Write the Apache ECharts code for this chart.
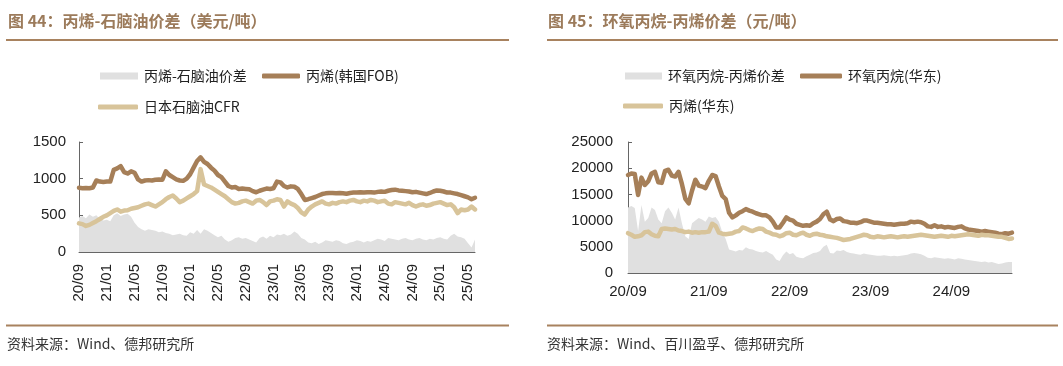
<!DOCTYPE html>
<html><head><meta charset="utf-8">
<script src="https://cdn.jsdelivr.net/npm/echarts@6/dist/echarts.min.js"></script>
<style>html,body{margin:0;padding:0;background:#fff}#c{width:1063px;height:366px}</style>
</head><body><div id="c"></div>
<script>
// Half-month categories from 2020-09 to 2025-06
const months = ['20/09','20/10','20/11','20/12','21/01','21/02','21/03','21/04','21/05','21/06','21/07','21/08','21/09','21/10','21/11','21/12',
'22/01','22/02','22/03','22/04','22/05','22/06','22/07','22/08','22/09','22/10','22/11','22/12','23/01','23/02','23/03','23/04','23/05','23/06','23/07','23/08',
'23/09','23/10','23/11','23/12','24/01','24/02','24/03','24/04','24/05','24/06','24/07','24/08','24/09','24/10','24/11','24/12','25/01','25/02','25/03','25/04','25/05','25/06'];
const categories = [];
months.forEach((m, i) => { categories.push(m + '-01'); if (i < months.length - 1) categories.push(m + '-16'); });

// Chart 44 (USD/t)
const spread44 = [470,490,460,510,480,500,450,430,440,420,500,530,490,510,520,480,400,340,310,290,310,300,290,270,280,260,250,230,240,250,230,220,270,250,300,250,310,290,260,230,
200,220,170,140,160,190,200,180,190,170,150,130,190,210,180,220,200,240,230,250,220,240,280,250,190,170,130,120,140,110,130,160,150,140,160,150,120,110,130,140,
160,150,130,150,140,160,180,170,150,190,180,170,160,180,190,170,160,180,190,170,160,180,170,190,200,180,170,220,250,210,200,180,120,60,170];
const propyleneKorea = [875,870,872,870,880,975,960,955,960,960,1120,1140,1170,1090,1070,1100,1080,990,960,975,980,975,985,990,985,1100,1050,1020,990,975,970,1000,1060,1150,1240,1290,1230,1200,1150,1110,
1050,1020,960,900,880,885,860,865,860,855,830,815,835,850,865,860,870,960,950,900,880,895,890,860,790,710,720,735,750,770,790,800,805,805,800,805,800,795,805,810,
810,815,810,815,815,810,820,825,820,835,845,850,840,835,830,825,815,820,810,800,790,805,825,840,835,825,810,810,800,790,775,760,745,720,740];
const naphthaJapan = [390,380,355,370,395,420,450,480,500,530,560,580,550,565,570,590,600,610,630,650,660,640,620,650,680,720,750,770,730,680,700,730,760,790,830,1130,920,900,880,850,
820,790,760,720,680,660,670,690,700,680,660,700,710,680,640,690,700,720,710,620,690,660,640,600,540,510,580,620,650,670,690,660,650,670,660,680,690,680,700,710,
690,680,700,690,710,700,680,690,700,660,650,680,670,660,650,670,640,620,640,650,630,640,660,670,680,660,640,650,610,530,580,570,580,620,580];

// Chart 45 (CNY/t)
const spread45 = [12500,12800,12400,8000,13000,9800,10500,12500,12000,10200,9500,11800,12500,11500,10200,12500,9500,7000,6500,9500,10000,10500,10200,9800,10800,10500,10700,9800,7800,6500,
4500,4300,4100,4400,4300,4900,4600,4500,4200,4000,3900,4200,3800,3500,2600,2300,3400,4100,3600,3800,3100,2900,2800,3200,3500,3800,3900,4200,5000,5400,
3800,3700,4300,4200,4400,4000,3800,3700,3600,3500,3700,3600,3500,3400,3300,3300,3400,3300,3200,3300,3200,3300,3400,3500,3700,3800,3700,3600,3300,2900,
2800,3000,2900,2800,2700,2800,2700,2600,2800,2700,2600,2500,2400,2300,2200,2100,2200,2000,2100,1900,1700,1800,2000,2100,2100];
const poEastChina = [18700,19000,18900,14900,18200,16800,17500,19000,19300,17300,17200,19500,19700,18600,18400,19300,17000,14200,13300,15700,17800,16700,16500,16200,17600,18700,18500,16500,14700,14100,
11500,10600,11000,11500,11800,12200,11900,11700,11400,11200,11000,11000,10600,9800,8700,8700,9600,10600,10200,10000,9400,9200,9000,9100,9000,9500,9800,10300,11200,11700,
10200,9900,10300,10400,9900,9800,9600,9600,9500,9700,10000,10000,9800,9600,9600,9500,9400,9300,9300,9200,9300,9400,9400,9500,9800,9700,9800,9700,9400,8900,
8800,9100,8800,8900,8700,8800,8700,8600,8800,8900,8500,8300,8200,8100,8000,7900,8000,7900,7800,7700,7500,7400,7600,7500,7700];
const propyleneEastChina = [7600,7300,6900,7000,7200,7800,7900,7400,7100,7000,8400,8500,8400,8300,8400,8100,8000,7800,7900,7700,7800,7700,7800,7800,7900,9400,9000,7700,7500,7400,
7500,7600,7900,8000,8700,8500,8200,8000,8300,8500,8400,7900,7700,7400,7300,7000,7200,7600,7700,7300,7200,7500,7700,7300,7100,7400,7500,7300,7200,7000,
6900,6800,6700,6500,6300,6400,6500,6700,6900,7100,7300,7200,6900,6800,7000,6900,6800,6900,7000,6900,6800,6900,7000,6900,7000,7100,7200,7300,7200,7100,
7000,6900,7000,7100,7000,6900,7100,7000,7100,7200,7300,7400,7300,7200,7100,7300,7200,7200,7100,7000,6900,6900,6700,6500,6600];

const yTicks44 = [0, 500, 1000, 1500];
const yTicks45 = [0, 5000, 10000, 15000, 20000, 25000];
const names44 = ['丙烯-石脑油价差', '丙烯(韩国FOB)', '日本石脑油CFR'];
const names45 = ['环氧丙烷-丙烯价差', '环氧丙烷(华东)', '丙烯(华东)'];
const titles = ['图 44：丙烯-石脑油价差（美元/吨）', '图 45：环氧丙烷-丙烯价差（元/吨）'];
const sources = ['资料来源：Wind、德邦研究所', '资料来源：Wind、百川盈孚、德邦研究所'];

const C_GRAY = '#e0e0e0', C_BROWN = '#a67f58', C_TAN = '#d8c49a', C_RULE = '#a8825f', C_TITLE = '#9c7b5b';
const FONT = '"Liberation Sans", Arial, "Noto Sans CJK SC", sans-serif';
const CJK = '"Noto Sans CJK SC", "Liberation Sans", sans-serif';

function xAxis(gridIndex, step, rotate, margin) {
  return {
    type: 'category', gridIndex, data: categories, boundaryGap: false,
    axisLine: { lineStyle: { color: '#666', width: 1 } },
    axisTick: { inside: true, length: 4, interval: (i) => i % step === 0, lineStyle: { color: '#666' } },
    axisLabel: { interval: (i) => i % step === 0, formatter: (v) => v.slice(0, 5), rotate, margin,
      color: '#222', fontSize: 15, fontFamily: FONT },
    splitLine: { show: false }
  };
}
function yAxis(gridIndex, ticks, margin) {
  return {
    type: 'value', gridIndex, min: ticks[0], max: ticks[ticks.length - 1], interval: ticks[1] - ticks[0],
    axisLine: { show: true, lineStyle: { color: '#666', width: 1 } },
    axisTick: { show: true, inside: true, length: 4, lineStyle: { color: '#666' } },
    axisLabel: { color: '#222', fontSize: 15, fontFamily: FONT, margin, formatter: (v) => String(v) },
    splitLine: { show: false }
  };
}
function legend(name, left, top, icon, w, h) {
  return { show: true, data: [{ name, icon }], left, top, itemWidth: w, itemHeight: h, padding: 0,
    itemGap: 0, selectedMode: false, textStyle: { color: '#222', fontSize: 14, fontFamily: CJK, padding: [0, 0, 0, 1] } };
}
function area(name, data, xi) {
  return { name, type: 'line', xAxisIndex: xi, yAxisIndex: xi, data, symbol: 'none', color: C_GRAY,
    lineStyle: { width: 0 }, areaStyle: { color: C_GRAY, opacity: 1 }, z: 1 };
}
function line(name, data, xi, color) {
  return { name, type: 'line', xAxisIndex: xi, yAxisIndex: xi, data, symbol: 'none', color,
    lineStyle: { width: 4.5, color, cap: 'round', join: 'round' }, z: 3 };
}

const chart = echarts.init(document.getElementById('c'), null, { renderer: 'canvas' });
chart.setOption({
  animation: false,
  backgroundColor: '#fff',
  grid: [
    { left: 79, top: 142, width: 396, height: 110 },
    { left: 628, top: 142, width: 384, height: 131 }
  ],
  xAxis: [xAxis(0, 8, 90, 12), xAxis(1, 24, 0, 11)],
  yAxis: [yAxis(0, yTicks44, 13), yAxis(1, yTicks45, 15)],
  legend: [
    legend(names44[0], 100, 69, 'rect', 38, 7),
    legend(names44[1], 262, 69, 'roundRect', 38, 5),
    legend(names44[2], 98, 100, 'roundRect', 40, 5),
    legend(names45[0], 625, 69, 'rect', 37, 7),
    legend(names45[1], 800, 69, 'roundRect', 42, 5),
    legend(names45[2], 623, 99, 'roundRect', 40, 5)
  ],
  series: [
    area(names44[0], spread44, 0), line(names44[1], propyleneKorea, 0, C_BROWN), line(names44[2], naphthaJapan, 0, C_TAN),
    area(names45[0], spread45, 1), line(names45[1], poEastChina, 1, C_BROWN), line(names45[2], propyleneEastChina, 1, C_TAN)
  ],
  graphic: [
    { type: 'text', left: 8, top: 13, style: { text: titles[0], fill: C_TITLE, font: 'bold 16px ' + CJK } },
    { type: 'text', left: 548, top: 13, style: { text: titles[1], fill: C_TITLE, font: 'bold 16px ' + CJK } },
    { type: 'line', shape: { x1: 6, y1: 40, x2: 509, y2: 40 }, style: { stroke: C_RULE, lineWidth: 2 } },
    { type: 'line', shape: { x1: 547, y1: 40, x2: 1058, y2: 40 }, style: { stroke: C_RULE, lineWidth: 2 } },
    { type: 'line', shape: { x1: 6, y1: 325.5, x2: 509, y2: 325.5 }, style: { stroke: C_RULE, lineWidth: 2 } },
    { type: 'line', shape: { x1: 547, y1: 325.5, x2: 1058, y2: 325.5 }, style: { stroke: C_RULE, lineWidth: 2 } },
    { type: 'text', left: 7, top: 337, style: { text: sources[0], fill: '#333', font: '14px ' + CJK } },
    { type: 'text', left: 547, top: 337, style: { text: sources[1], fill: '#333', font: '14px ' + CJK } }
  ]
});
</script></body></html>
